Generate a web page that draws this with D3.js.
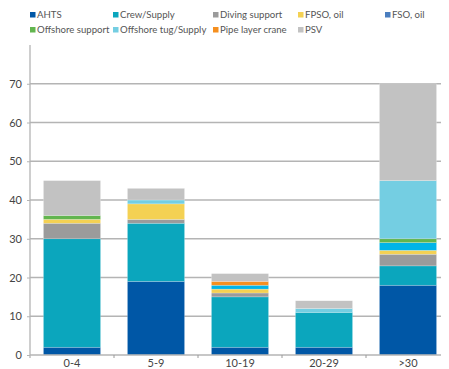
<!DOCTYPE html>
<html>
<head>
<meta charset="utf-8">
<script src="https://cdn.jsdelivr.net/npm/d3@7"></script>
<style>
  body { margin: 0; background: #fff; }
  svg { display: block; font-family: Lato, "Open Sans", sans-serif; }
</style>
</head>
<body>
<svg id="chart" width="449" height="369"></svg>
<script>
// Vessel age groups (years)
const categories = ["0-4", "5-9", "10-19", "20-29", ">30"];

// Vessel types, in stacking order (bottom to top)
const seriesNames = ["AHTS", "Crew/Supply", "Diving support", "FPSO, oil", "FSO, oil",
  "Offshore support", "Offshore tug/Supply", "Pipe layer crane", "PSV"];

// Number of vessels per type, one value per age group
const ahts            = [2, 19, 2, 2, 18];
const crewSupply      = [28, 15, 13, 9, 5];
const divingSupport   = [4, 1, 1, 0, 3];
const fpsoOil         = [1, 4, 1, 0, 1];
const fsoOil          = [0, 0, 1, 0, 2];
const offshoreSupport = [1, 0, 0, 0, 1];
const offshoreTug     = [0, 1, 0, 1, 15];
const pipeLayerCrane  = [0, 0, 1, 0, 0];
const psv             = [9, 3, 2, 2, 25];

const yTicks = [0, 10, 20, 30, 40, 50, 60, 70];

const barColors    = ["#0057a6", "#0ba6bd", "#9b9b9b", "#f4d153", "#00b4e8",
  "#62b54f", "#74cee2", "#f58f1f", "#c2c2c2"];
const legendColors = ["#0057a6", "#0ba6bd", "#9b9b9b", "#f4d153", "#4a7ebf",
  "#62b54f", "#74cee2", "#f58f1f", "#c2c2c2"];

const values = [ahts, crewSupply, divingSupport, fpsoOil, fsoOil,
  offshoreSupport, offshoreTug, pipeLayerCrane, psv];

const rows = categories.map((c, i) => {
  const r = { category: c };
  seriesNames.forEach((s, k) => { r[s] = values[k][i]; });
  return r;
});

const svg = d3.select("#chart");
const margin = { left: 30, right: 0, top: 45, bottom: 14 };
const W = 449, H = 369;

const x = d3.scaleBand().domain(categories).range([margin.left, 450]).paddingInner(0.32).paddingOuter(0.16);
const y = d3.scaleLinear().domain([0, 80]).range([H - margin.bottom, margin.top]);

// Horizontal gridlines
svg.append("g")
  .selectAll("line")
  .data(yTicks.filter(d => d > 0))
  .join("line")
  .attr("x1", margin.left).attr("x2", 441)
  .attr("y1", d => y(d)).attr("y2", d => y(d))
  .attr("stroke", "#b4b4b4").attr("stroke-width", 1.3);

// Stacked bars
const stack = d3.stack().keys(seriesNames)(rows);
svg.append("g")
  .selectAll("g")
  .data(stack)
  .join("g")
  .attr("fill", (d, i) => barColors[i])
  .selectAll("rect")
  .data(d => d.filter(p => p[1] > p[0]))
  .join("rect")
  .attr("x", d => x(d.data.category))
  .attr("width", x.bandwidth())
  .attr("y", d => y(d[1]))
  .attr("height", d => y(d[0]) - y(d[1]))
  .attr("stroke", "rgba(255,255,255,0.35)")
  .attr("stroke-width", 0.6);

// Y axis
const yAxis = d3.axisLeft(y).tickValues(yTicks).tickSize(3).tickPadding(5).tickFormat(d3.format("d"));
const gy = svg.append("g").attr("transform", `translate(${margin.left},0)`).call(yAxis);
gy.select(".domain").attr("d", `M0,${margin.top}V${y(0) + 3}`).attr("stroke", "#b4b4b4").attr("stroke-width", 1.3);
gy.selectAll(".tick line").attr("stroke", "#b4b4b4");
gy.selectAll(".tick text").attr("fill", "#444").style("font-size", "11px").style("font-family", "Lato, sans-serif");

// X axis with ticks between categories
const gx = svg.append("g").attr("transform", `translate(0,${y(0)})`);
gx.append("line").attr("x1", margin.left).attr("x2", 441).attr("y1", 0).attr("y2", 0)
  .attr("stroke", "#b4b4b4").attr("stroke-width", 1.3);
const step = x.step();
gx.selectAll(".sep")
  .data(categories.slice(1))
  .join("line")
  .attr("x1", d => x(d) - (step - x.bandwidth()) / 2)
  .attr("x2", d => x(d) - (step - x.bandwidth()) / 2)
  .attr("y1", 0).attr("y2", 3)
  .attr("stroke", "#9a9a9a");
gx.selectAll("text")
  .data(categories)
  .join("text")
  .attr("x", d => x(d) + x.bandwidth() / 2)
  .attr("y", 12)
  .attr("text-anchor", "middle")
  .attr("fill", "#444")
  .style("font-size", "11px")
  .text(d => d);

// Legend
const legendX = [30, 113, 213, 298, 385];
const legend = svg.append("g");
seriesNames.forEach((s, i) => {
  const row = i < 5 ? 0 : 1;
  const col = i < 5 ? i : i - 5;
  const g = legend.append("g").attr("transform", `translate(${legendX[col]},${15 + row * 15})`);
  g.append("rect").attr("x", 0).attr("y", -3).attr("width", 5.5).attr("height", 5.5).attr("fill", legendColors[i]);
  g.append("text").attr("x", 7).attr("y", 0).attr("dy", "0.35em")
    .attr("fill", "#555").style("font-size", "9.6px").text(s);
});
</script>
</body>
</html>
